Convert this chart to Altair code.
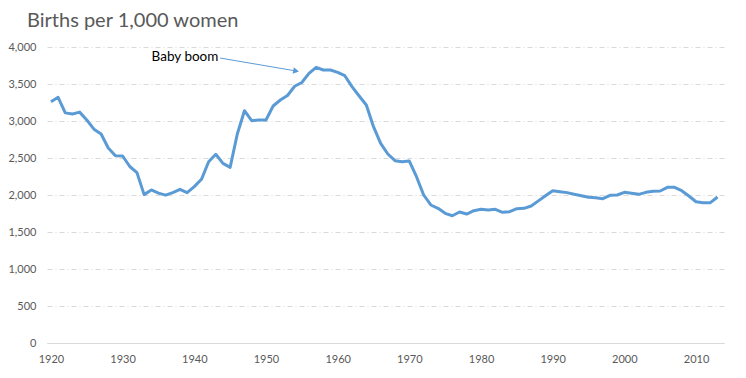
import altair as alt
import pandas as pd

years = list(range(1920, 2014))
births = [
    3260, 3320, 3110, 3095, 3120, 3013, 2890, 2825, 2635, 2530,
    2527, 2385, 2302, 2005, 2068, 2025, 1998, 2032, 2077, 2032,
    2113, 2212, 2450, 2550, 2428, 2374, 2824, 3139, 3004, 3013,
    3013, 3203, 3284, 3345, 3470, 3520, 3644, 3725, 3689, 3689,
    3658, 3612, 3464, 3338, 3216, 2923, 2698, 2554, 2464, 2450,
    2459, 2247, 2000, 1865, 1820, 1752, 1720, 1770, 1743, 1788,
    1807, 1797, 1807, 1766, 1775, 1815, 1820, 1851, 1921, 1991,
    2058, 2045, 2032, 2009, 1991, 1969, 1964, 1950, 1996, 2000,
    2036, 2023, 2009, 2036, 2050, 2054, 2104, 2104, 2058, 1986,
    1909, 1896, 1896, 1973,
]
x_ticks = list(range(1920, 2011, 10))
y_ticks = list(range(0, 4001, 500))

title_text = "Births per 1,000 women"
note_text = "Baby boom"
note_pos = [1938.7, 3865]
arrow_from = [1943.6, 3851]
arrow_to = [1954.2, 3676]

df = pd.DataFrame({"year": years, "births": births})

FONT = "Lato"
GRAY = "#595959"
BLUE = "#5b9bd5"

xscale = alt.Scale(domain=[1919.45, 2013.9], nice=False, zero=False)
yscale = alt.Scale(domain=[0, 4000], nice=False)

xaxis = alt.Axis(values=x_ticks, format="d", grid=False, ticks=False,
                 domain=True, domainColor="#d9d9d9", domainWidth=1,
                 labelColor=GRAY, labelFont=FONT, labelFontSize=11,
                 labelPadding=10, labelOverlap=False, title=None)
yaxis = alt.Axis(values=y_ticks, format=",.0f", grid=True, ticks=False,
                 domain=False, gridColor="#d9d9d9", gridDash=[5, 3, 1, 3],
                 labelColor=GRAY, labelFont=FONT, labelFontSize=11,
                 labelPadding=11, labelOverlap=False, title=None)

line = alt.Chart(df).mark_line(color=BLUE, strokeWidth=3, strokeJoin="round").encode(
    x=alt.X("year:Q", scale=xscale, axis=xaxis),
    y=alt.Y("births:Q", scale=yscale, axis=yaxis),
)

arrow_df = pd.DataFrame({"year": [arrow_from[0]], "births": [arrow_from[1]],
                         "x2": [arrow_to[0]], "y2": [arrow_to[1]]})
arrow = alt.Chart(arrow_df).mark_rule(color=BLUE, strokeWidth=1).encode(
    x=alt.X("year:Q", scale=xscale, axis=xaxis),
    y=alt.Y("births:Q", scale=yscale, axis=yaxis),
    x2="x2:Q", y2="y2:Q",
)
head_df = pd.DataFrame({"year": [arrow_to[0]], "births": [arrow_to[1]]})
head = alt.Chart(head_df).mark_point(shape="triangle-right", filled=True, color=BLUE,
                                     size=45, angle=10, opacity=1).encode(
    x=alt.X("year:Q", scale=xscale, axis=xaxis),
    y=alt.Y("births:Q", scale=yscale, axis=yaxis),
)

note_df = pd.DataFrame({"year": [note_pos[0]], "births": [note_pos[1]], "t": [note_text]})
note = alt.Chart(note_df).mark_text(font=FONT, fontSize=13.5, color="#000000",
                                    align="center", baseline="middle").encode(
    x=alt.X("year:Q", scale=xscale, axis=xaxis),
    y=alt.Y("births:Q", scale=yscale, axis=yaxis),
    text="t:N",
)

title_df = pd.DataFrame({"t": [title_text]})
title = alt.Chart(title_df).mark_text(font=FONT, fontSize=20, color=GRAY,
                                      align="left", baseline="alphabetic").encode(
    x=alt.value(-20), y=alt.value(-20), text="t:N",
)

chart = alt.layer(line, arrow, head, note, title).properties(
    width=677, height=296,
    autosize=alt.AutoSizeParams(type="none"),
    padding={"left": 47, "top": 47, "right": 22, "bottom": 35},
    background="white",
).configure_view(stroke=None)

chart.save("out.html", embed_options={"renderer": "svg", "actions": False})
